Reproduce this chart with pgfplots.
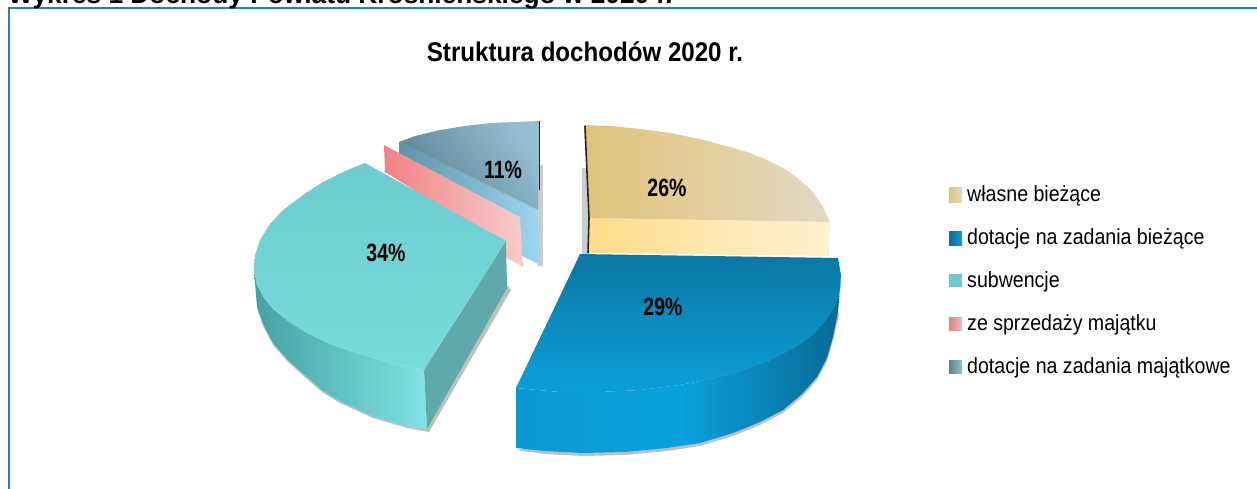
\documentclass[border=0pt]{standalone}
\usepackage{pgfplots}
\pgfplotsset{compat=1.18}
\usepackage{fontspec}
\setmainfont{Liberation Sans}
\definecolor{frameb}{HTML}{2E7EBE}
\definecolor{ysl}{HTML}{FFDC8A}\definecolor{ysr}{HTML}{FDF1D2}
\definecolor{ytl}{HTML}{E1C379}\definecolor{ytr}{HTML}{E3DAC4}
\definecolor{ssl}{HTML}{5E93A8}\definecolor{ssr}{HTML}{9FD6EF}
\definecolor{stl}{HTML}{5B8194}\definecolor{str}{HTML}{95BED2}
\definecolor{pl}{HTML}{F08284}\definecolor{pr}{HTML}{F6CCCC}
\definecolor{tsl}{HTML}{45A0A2}\definecolor{tsm}{HTML}{72D8DA}\definecolor{tsr}{HTML}{80E3E6}
\definecolor{trf}{HTML}{5FA9AB}
\definecolor{ttt}{HTML}{6DCCCF}\definecolor{ttb}{HTML}{78DBDE}
\definecolor{bsl}{HTML}{0B98D2}\definecolor{bsm}{HTML}{0AA2DE}\definecolor{bsr}{HTML}{086A94}
\definecolor{btt}{HTML}{0B78A4}\definecolor{btb}{HTML}{0B9FD9}
\definecolor{lbl}{HTML}{0B6F9C}\definecolor{lbr}{HTML}{0B9CD4}
\definecolor{ltl}{HTML}{6FC8CB}
\definecolor{lpl}{HTML}{DE8286}\definecolor{lpr}{HTML}{EDBABA}
\newcommand{\lab}[1]{\scalebox{0.78}[1]{\fontsize{25}{25}\selectfont\bfseries #1}}
\newcommand{\leg}[1]{\scalebox{0.89}[1]{\fontsize{22}{22}\selectfont #1}}
\begin{document}
\begin{tikzpicture}[x=1pt,y=1pt]
\path[use as bounding box,clip] (0,0) rectangle (1257pt,489pt);
\begin{axis}[at={(0,0)},anchor=south west,scale only axis,width=1257pt,height=489pt,
 xmin=0,xmax=1257,ymin=0,ymax=489,y dir=reverse,axis lines=none,clip=false]
% frame
\addplot[frameb,line width=2pt] coordinates {(9,500)(9,8)(1270,8)};
% ---- shadows
\addplot[draw=none,fill=black!20] coordinates {(582,168)(590,168)(590,254)(582,254)} --cycle;
\addplot[draw=none,fill=black!20] coordinates {(538,165)(543,165)(543,266)(538,266)} --cycle;
\addplot[draw=none,fill=black!25] coordinates {(257,309)(264,328)(273,345)(288,362)(307,379)(322,392)(340,403)(373,418)(407,428)(429,432)(511,290)(507,285)(427,426)} --cycle;
\addplot[draw=none,fill=black!25] coordinates {(515,450)(545,454)(583,456)(625,455)(667,451)(700,446)(733,436)(760,425)(783,413)(802,397)(817,380)(827,361)(833,340)(839,315)(835,300)(600,440)} --cycle;
% ---- yellow
\addplot[draw=none,left color=ysl,right color=ysr] coordinates {(588,218)(830,222)(829,256)(588,253)} --cycle;
\addplot[draw=none,left color=ytl,right color=ytr] coordinates {(584,125)(610,126)(640,129)(670,133)(700,139)(730,147)(750,153)(767,160)(785,169)(800,180)(812,191)(822,205)(830,222)(589,218)} --cycle;
\addplot[black!85,line width=1.6pt] coordinates {(585,126)(589,218)(588,253)};
% ---- slate
\addplot[draw=none,left color=ssl,right color=ssr] coordinates {(399,142)(538,210)(540,265)(522,256)(399,160)} --cycle;
\addplot[draw=none,left color=stl,right color=str,shading angle=125] coordinates {(399,142)(415,136)(440,130)(465,126)(490,123)(515,122)(540,121)(538,210)} --cycle;
\addplot[black!85,line width=1pt] coordinates {(539.5,121)(539.5,190)};
% ---- pink
\addplot[draw=none,left color=pl,right color=pr] coordinates {(384,145)(520,217)(523,267)(507,258)(495,240)(385,172)} --cycle;
% ---- teal
\addplot[draw=none,left color=tsl,middle color=tsm,right color=tsr] coordinates {(254,270)(257,285)(264,298)(273,309)(288,321)(307,333)(330,344)(357,353)(390,363)(424,370)(427,429)(407,426)(373,416)(340,401)(322,390)(307,377)(288,360)(273,343)(264,326)(257,307)} --cycle;
\addplot[draw=none,fill=trf] coordinates {(506,241)(507,288)(427,429)(424,370)} --cycle;
\addplot[draw=none,top color=ttt,bottom color=ttb] coordinates {(365,163)(345,171)(323,182)(303,195)(283,210)(270,224)(260,240)(255,255)(254,270)(257,285)(264,298)(273,309)(288,321)(307,333)(330,344)(357,353)(390,363)(424,370)(506,241)} --cycle;
% ---- blue
\addplot[draw=none,left color=bsl,right color=bsr,middle color=bsm] coordinates {(841,275)(840,290)(835,305)(826,320)(812,335)(795,347)(770,360)(740,371)(710,379)(680,385)(640,390)(600,392)(560,392)(516,388)(516,448)(545,451)(583,453)(625,452)(667,448)(700,443)(733,433)(760,422)(783,410)(802,394)(817,377)(827,358)(833,337)(838,312)} --cycle;
\addplot[draw=none,top color=btt,bottom color=btb] coordinates {(580,254)(838,258)(841,275)(840,290)(835,305)(826,320)(812,335)(795,347)(770,360)(740,371)(710,379)(680,385)(640,390)(600,392)(560,392)(516,388)} --cycle;
% ---- legend swatches
\addplot[draw=none,left color=ytl,right color=ytr] coordinates {(949,188)(962,188)(962,202)(949,202)} --cycle;
\addplot[draw=none,left color=lbl,right color=lbr] coordinates {(949,231)(962,231)(962,245)(949,245)} --cycle;
\addplot[draw=none,fill=ltl] coordinates {(949,274)(962,274)(962,287)(949,287)} --cycle;
\addplot[draw=none,left color=lpl,right color=lpr] coordinates {(949,317)(962,317)(962,330)(949,330)} --cycle;
\addplot[draw=none,left color=stl,right color=str] coordinates {(949,360)(962,360)(962,373)(949,373)} --cycle;
% ---- texts
\node[inner sep=0pt,anchor=base west] at (axis cs:8,4) {\fontsize{26.3}{26.3}\selectfont\bfseries Wykres 1 Dochody Powiatu Krośnieńskiego w 2020 r.};
\node[inner sep=0pt] at (axis cs:585,51.5) {\scalebox{0.893}[1]{\fontsize{27}{27}\selectfont\bfseries Struktura dochodów 2020 r.}};
\node[inner sep=0pt] at (axis cs:667,188) {\lab{26\%}};
\node[inner sep=0pt] at (axis cs:663,307) {\lab{29\%}};
\node[inner sep=0pt] at (axis cs:386,253) {\lab{34\%}};
\node[inner sep=0pt] at (axis cs:503,170) {\lab{11\%}};
\node[inner sep=0pt,anchor=base west] at (axis cs:967,201) {\leg{własne bieżące}};
\node[inner sep=0pt,anchor=base west] at (axis cs:967,244) {\leg{dotacje na zadania bieżące}};
\node[inner sep=0pt,anchor=base west] at (axis cs:967,287) {\leg{subwencje}};
\node[inner sep=0pt,anchor=base west] at (axis cs:967,330) {\leg{ze sprzedaży majątku}};
\node[inner sep=0pt,anchor=base west] at (axis cs:967,373) {\leg{dotacje na zadania majątkowe}};
\end{axis}
\end{tikzpicture}
\end{document}
